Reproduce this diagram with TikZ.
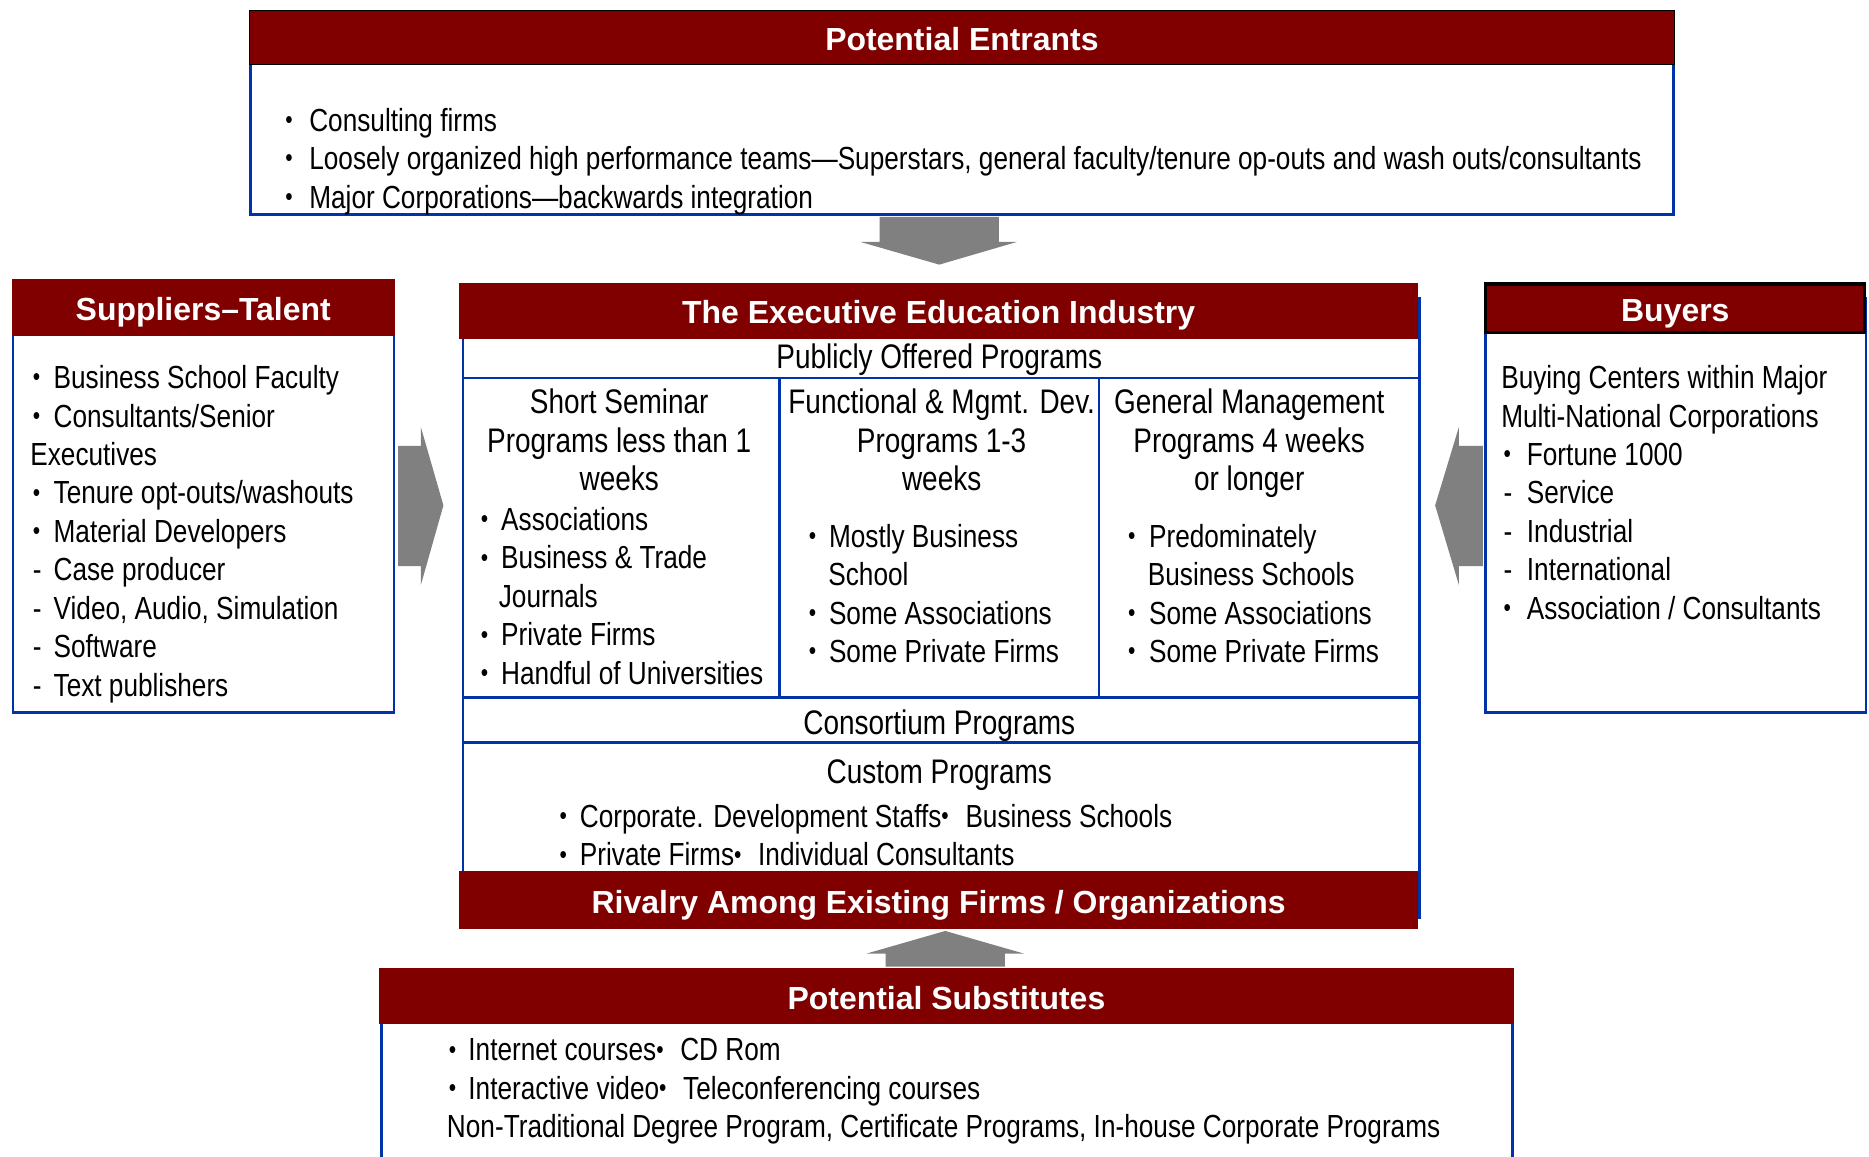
\documentclass[tikz,border=0pt]{standalone}
\usepackage{graphicx}
\usepackage{fontspec}
\setmainfont{Liberation Sans}[FakeStretch=0.82]
\newfontfamily\headfont{Liberation Sans}
\definecolor{hdred}{RGB}{128,0,0}
\definecolor{boxblue}{RGB}{0,51,170}
\definecolor{arrowgray}{RGB}{128,128,128}

% stacked lines with a fixed baseline distance; baseline = first line
\newlength\itemind
\newcommand\lstack[1]{\vtop{\baselineskip=32.25pt\lineskiplimit=-100pt\lineskip=0pt\halign{##\hfil\cr#1\crcr}}}
\newcommand\cstack[1]{\vtop{\baselineskip=32.25pt\lineskiplimit=-100pt\lineskip=0pt\halign{\hfil##\hfil\cr#1\crcr}}}
\newcommand\smbullet{\raisebox{2.2pt}{\scalebox{0.8}{•}}}
\newcommand\bitem[1]{\makebox[\itemind][l]{\smbullet}#1}
\newcommand\ditem[1]{\makebox[\itemind][l]{-}#1}

\begin{document}
\begin{tikzpicture}[x=1pt,y=-1pt,
  font=\fontsize{26.8pt}{32.25pt}\selectfont,
  bodybox/.style={draw=boxblue, line width=2.2pt, fill=white, inner sep=0pt, outer sep=0pt},
  divider/.style={draw=boxblue, line width=2.2pt},
  hdbar/.style={fill=hdred, text=white, inner sep=0pt, outer sep=0pt,
    text height=22pt, text depth=0pt,
    font=\headfont\fontsize{26.8pt}{32.25pt}\selectfont\bfseries},
  txt/.style={inner sep=0pt, outer sep=0pt},
  sectitle/.style={inner sep=0pt, outer sep=0pt, font=\fontsize{28.6pt}{32.25pt}\selectfont},
  blockarrow/.style={fill=arrowgray, draw=none}]

\useasboundingbox (0,0) rectangle (1568,970);
\clip (0,0) rectangle (1568,970);
\fill[white] (0,0) rectangle (1568,970);

% ---------- boxes ----------
\node[bodybox, minimum width=1194pt, minimum height=160pt] (pebox) at (807,100) {};
\node[bodybox, minimum width=319.5pt, minimum height=348pt] (supbox) at (170.75,424) {};
\node[bodybox, minimum width=319.5pt, minimum height=348pt] (buybox) at (1405.75,424) {};
\node[bodybox, minimum width=802.5pt, minimum height=520pt] (indbox) at (789.75,510) {};
\node[bodybox, minimum width=949pt, minimum height=180pt] (subbox) at (794.5,920) {};

% ---------- industry grid ----------
\draw[divider] (indbox.west |- 0,317) -- (indbox.east |- 0,317);
\draw[divider] (indbox.west |- 0,585) -- (indbox.east |- 0,585);
\draw[divider] (indbox.west |- 0,623) -- (indbox.east |- 0,623);
\draw[divider] (654,317) -- (654,585);
\draw[divider] (922,317) -- (922,585);

% ---------- header bars ----------
\node[hdbar, draw=black, line width=0.8pt, minimum width=1195pt, minimum height=46pt] (pehead) at (807,31.5) {Potential Entrants};
\node[hdbar, minimum width=321pt, minimum height=48pt] (suphead) at (170.5,258) {Suppliers–Talent};
\node[hdbar, draw=black, line width=2.6pt, minimum width=318pt, minimum height=40.5pt] (buyhead) at (1405.5,258.5) {Buyers};
\node[hdbar, minimum width=805pt, minimum height=47pt] (indhead) at (787.5,260.5) {The Executive Education Industry};
\node[hdbar, minimum width=805pt, minimum height=48pt] (rivhead) at (787.5,755) {Rivalry Among Existing Firms / Organizations};
\node[hdbar, minimum width=952pt, minimum height=47pt] (subhead) at (794,835.5) {Potential Substitutes};

% ---------- potential entrants ----------
\node[txt, anchor=base west] (petext) at (239.5,110) {\setlength\itemind{20pt}\lstack{%
  \bitem{Consulting firms}\cr
  \bitem{Loosely organized high performance teams—Superstars, general faculty/tenure op-outs and wash outs/consultants}\cr
  \bitem{Major Corporations—backwards integration}}};

% ---------- suppliers ----------
\node[txt, anchor=base west] (suptext) at (27.5,326) {\setlength\itemind{17.5pt}\lstack{%
  \bitem{Business School Faculty}\cr
  \bitem{Consultants/Senior}\cr
  \kern-2pt Executives\cr
  \bitem{Tenure opt-outs/washouts}\cr
  \bitem{Material Developers}\cr
  \ditem{Case producer}\cr
  \ditem{Video, Audio, Simulation}\cr
  \ditem{Software}\cr
  \ditem{Text publishers}}};

% ---------- buyers ----------
\node[txt, anchor=base west] (buytext) at (1261.5,326) {\setlength\itemind{19.5pt}\lstack{%
  \kern-2pt Buying Centers within Major\cr
  \kern-2pt Multi-National Corporations\cr
  \bitem{Fortune 1000}\cr
  \ditem{Service}\cr
  \ditem{Industrial}\cr
  \ditem{International}\cr
  \bitem{Association / Consultants}}};

% ---------- industry ----------
\node[sectitle, anchor=base] (pubtitle) at (788,309) {Publicly Offered Programs};
\node[sectitle, anchor=base] (c1head) at (519.5,347) {\cstack{Short Seminar\cr Programs less than 1\cr weeks}};
\node[sectitle, anchor=base] (c2head) at (790,347) {\cstack{Functional \& Mgmt. Dev.\cr Programs 1-3\cr weeks}};
\node[sectitle, anchor=base] (c3head) at (1048,347) {\cstack{General Management\cr Programs 4 weeks\cr or longer}};

\node[txt, anchor=base west] (c1list) at (403.5,445) {\setlength\itemind{17pt}\lstack{%
  \bitem{Associations}\cr
  \bitem{Business \& Trade}\cr
  \kern15pt Journals\cr
  \bitem{Private Firms}\cr
  \bitem{Handful of Universities}}};
\node[txt, anchor=base west] (c2list) at (678.5,459) {\setlength\itemind{17pt}\lstack{%
  \bitem{Mostly Business}\cr
  \kern16.5pt School\cr
  \bitem{Some Associations}\cr
  \bitem{Some Private Firms}}};
\node[txt, anchor=base west] (c3list) at (946.5,459) {\setlength\itemind{17.5pt}\lstack{%
  \bitem{Predominately}\cr
  \kern16.5pt Business Schools\cr
  \bitem{Some Associations}\cr
  \bitem{Some Private Firms}}};

\node[sectitle, anchor=base] (constitle) at (788,616) {Consortium Programs};
\node[sectitle, anchor=base] (custtitle) at (788,657) {Custom Programs};
\node[txt, anchor=base west] (custlist) at (469.5,694) {\setlength\itemind{17pt}\lstack{%
  \bitem{Corporate. Development Staffs\smbullet\hspace{14pt}Business Schools}\cr
  \bitem{Private Firms\smbullet\hspace{14pt}Individual Consultants}}};

% ---------- substitutes ----------
\node[txt, anchor=base west] (subtext) at (376.5,890) {\setlength\itemind{16.5pt}\lstack{%
  \bitem{Internet courses\smbullet\hspace{14pt}CD Rom}\cr
  \bitem{Interactive video\smbullet\hspace{14pt}Teleconferencing courses}\cr
  \kern-1.5pt Non-Traditional Degree Program, Certificate Programs, In-house Corporate Programs}};

% ---------- block arrows ----------
% entrants -> industry
\fill[blockarrow] (738,182) -- (838,182) -- (838,203) -- (853,203) -- (788,222)
  -- (722,203) -- (738,203) -- cycle;
% suppliers -> industry
\fill[blockarrow] (334,374) -- (353,374) -- (353,358) -- (372,424) -- (353,491)
  -- (353,475) -- (334,475) -- cycle;
% buyers -> industry
\fill[blockarrow] (1244,374) -- (1224,374) -- (1224,358) -- (1204,424) -- (1224,491)
  -- (1224,475) -- (1244,475) -- cycle;
% substitutes -> rivalry
\fill[blockarrow] (743,811) -- (843,811) -- (843,800) -- (859,800) -- (793,781)
  -- (727,800) -- (743,800) -- cycle;
\end{tikzpicture}
\end{document}
